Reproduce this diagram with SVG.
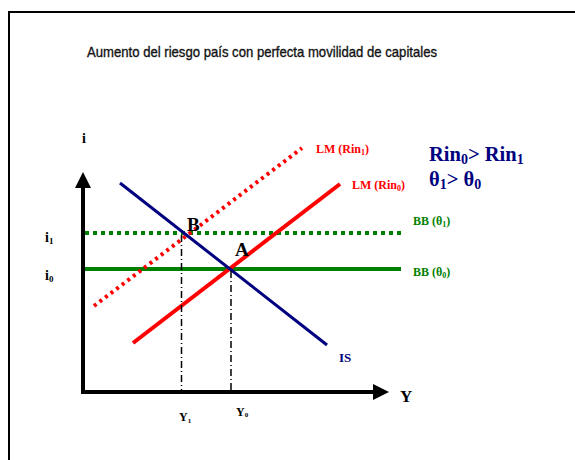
<svg xmlns="http://www.w3.org/2000/svg" width="575" height="460" viewBox="0 0 575 460">
<style>
.t{font-family:"Liberation Serif","Times New Roman",serif;font-weight:bold}
.red{fill:#FF0000}.navy{fill:#000080}.grn{fill:#008000}.blk{fill:#000}
</style>
<rect width="575" height="460" fill="#fff"/>
<path d="M9 470 V12 H590" fill="none" stroke="#000" stroke-width="2"/>
<text x="262" y="57" text-anchor="middle" font-family="Liberation Sans, Arial, sans-serif" font-size="15" textLength="350" lengthAdjust="spacingAndGlyphs" fill="#111" stroke="#111" stroke-width="0.35">Aumento del riesgo país con perfecta movilidad de capitales</text>
<g id="connectors">
<g id="axes">
<line x1="83" y1="185" x2="83" y2="394" stroke="#000" stroke-width="4"/>
<line x1="81" y1="392" x2="375" y2="392" stroke="#000" stroke-width="4"/>
<polygon points="83,172 75,188 91,188" fill="#000"/>
<polygon points="389,392 373,384 373,400" fill="#000"/>
</g>
<line id="bb1" x1="85" y1="233" x2="401" y2="233" stroke="#008000" stroke-width="4" stroke-dasharray="4,4"/>
<line id="bb0" x1="85" y1="269" x2="401" y2="269" stroke="#008000" stroke-width="4"/>
<line id="lm1" x1="94" y1="306" x2="302" y2="148" stroke="#FF0000" stroke-width="4" stroke-dasharray="3,4"/>
<line id="lm0" x1="133" y1="343" x2="340" y2="184" stroke="#FF0000" stroke-width="4"/>
<line id="is" x1="120" y1="183" x2="327" y2="345" stroke="#000080" stroke-width="3"/>
<line id="vy1" x1="181.5" y1="235" x2="181.5" y2="390" stroke="#000" stroke-width="1.5" stroke-dasharray="7,3,1,3"/>
<line id="vy0" x1="231" y1="271" x2="231" y2="390" stroke="#000" stroke-width="1.5" stroke-dasharray="7,3,1,3"/>
</g>
<g id="labels">
<text class="t blk" x="82" y="143" font-size="14">i</text>
<text class="t blk" x="400" y="402" font-size="17">Y</text>
<text class="t blk" x="45" y="242" font-size="14">i<tspan font-size="9" dy="2">1</tspan></text>
<text class="t blk" x="45" y="280" font-size="14">i<tspan font-size="9" dy="2">0</tspan></text>
<text class="t blk" x="187" y="231" font-size="19">B</text>
<text class="t blk" x="235" y="256" font-size="19">A</text>
<text class="t navy" x="339" y="362" font-size="13">IS</text>
<text class="t red" x="316" y="153" font-size="12">LM (Rin<tspan font-size="8" dy="2">1</tspan><tspan dy="-2">)</tspan></text>
<text class="t red" x="352" y="189" font-size="12">LM (Rin<tspan font-size="8" dy="2">0</tspan><tspan dy="-2">)</tspan></text>
<text class="t grn" x="413" y="225" font-size="12">BB (θ<tspan font-size="8" dy="2">1</tspan><tspan dy="-2">)</tspan></text>
<text class="t grn" x="413" y="276" font-size="12">BB (θ<tspan font-size="8" dy="2">0</tspan><tspan dy="-2">)</tspan></text>
<text class="t navy" x="429" y="161" font-size="20.5">Rin<tspan font-size="14" dy="3">0</tspan><tspan dy="-3">&gt; Rin</tspan><tspan font-size="14" dy="3">1</tspan></text>
<text class="t navy" x="429" y="186" font-size="20.5">θ<tspan font-size="14" dy="3">1</tspan><tspan dy="-3">&gt; θ</tspan><tspan font-size="14" dy="3">0</tspan></text>
<text class="t blk" x="179" y="421" font-size="12">Y<tspan font-size="7" dy="2">1</tspan></text>
<text class="t blk" x="236" y="416" font-size="12">Y<tspan font-size="7" dy="1">0</tspan></text>
</g>
</svg>
